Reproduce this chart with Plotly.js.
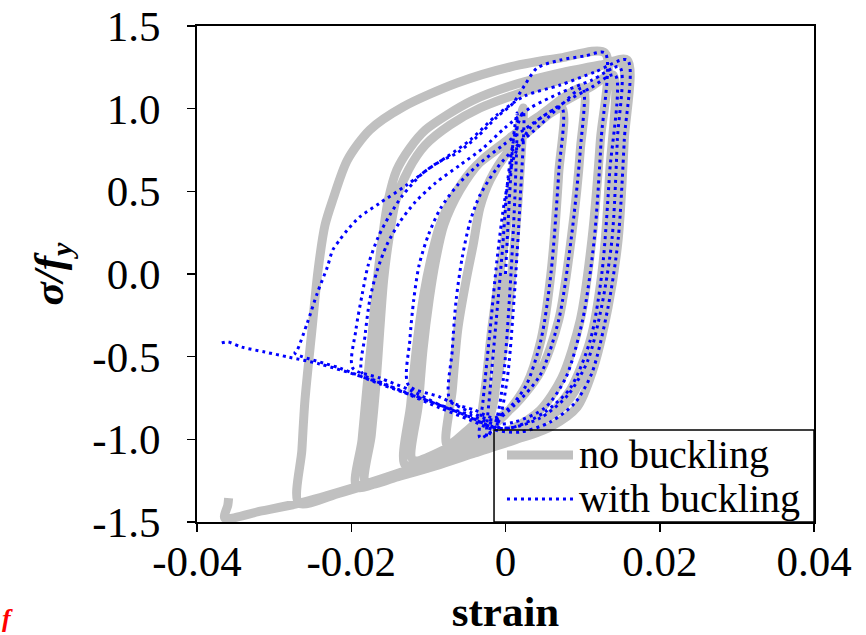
<!DOCTYPE html>
<html>
<head>
<meta charset="utf-8">
<script src="https://cdn.plot.ly/plotly-3.0.1.min.js"></script>
<style>html,body{margin:0;padding:0;background:#fff;}#chart{width:866px;height:635px;}</style>
</head>
<body>
<div id="chart"></div>
<script>
// ---- data ----
const xTickVals = [-0.04, -0.02, 0, 0.02, 0.04];
const xTickText = ['-0.04', '-0.02', '0', '0.02', '0.04'];
const yTickVals = [-1.5, -1.0, -0.5, 0.0, 0.5, 1.0, 1.5];
const yTickText = ['-1.5', '-1.0', '-0.5', '0.0', '0.5', '1.0', '1.5'];
const seriesNames = ['no buckling', 'with buckling'];

// no buckling (strain, sigma/fy)
const grayStrain = [
  0, -0.0007, -0.0015, -0.0024, -0.0033,
  -0.0025, -0.0018, -0.0010, -0.0001, 0.0007, 0.0012, 0.0018, 0.0023,
  0.0019, 0.0011, 0.0002, -0.0011, -0.0027, -0.0049, -0.0076,
  -0.0069, -0.0062, -0.0051, -0.0042, -0.0033, -0.0020, 0.0002, 0.0032, 0.0073,
  0.0069, 0.0059, 0.0046, 0.0027, -0.0001, -0.0040, -0.0085, -0.0130,
  -0.0123, -0.0115, -0.0106, -0.0097, -0.0085, -0.0064, -0.0037, 0.0006, 0.0051, 0.0100,
  0.0097, 0.0085, 0.0069, 0.0045, 0.0012, -0.0027, -0.0072, -0.0120,
  -0.0113, -0.0107, -0.0099, -0.0091, -0.0080, -0.0059, -0.0033, -0.0001, 0.0036, 0.0075, 0.0110, 0.0139,
  0.0135, 0.0125, 0.0110, 0.0084, 0.0054, 0.0012, -0.0040, -0.0091, -0.0143, -0.0193,
  -0.0186, -0.0180, -0.0173, -0.0167, -0.0160, -0.0152, -0.0141, -0.0124, -0.0104, -0.0076, -0.0042, 0.0006, 0.0071, 0.0123, 0.0158,
  0.0154, 0.0146, 0.0133, 0.0112, 0.0093, 0.0058, 0.0012, -0.0040, -0.0091, -0.0137, -0.0181,
  -0.0174, -0.0168, -0.0163, -0.0158, -0.0151, -0.0142, -0.0126, -0.0104, -0.0072, -0.0033, 0.0019, 0.0084, 0.0150,
  0.0146, 0.0138, 0.0124, 0.0103, 0.0077, 0.0038, -0.0007, -0.0059, -0.0111, -0.0163, -0.0215, -0.0268,
  -0.0264, -0.0260, -0.0251, -0.0243, -0.0234, -0.0224, -0.0205, -0.0176, -0.0133, -0.0063, 0.0006, 0.0071, 0.0129,
  0.0123, 0.0112, 0.0097, 0.0073, 0.0045, 0.0006, -0.0046, -0.0098, -0.0150, -0.0202, -0.0266, -0.0316, -0.0364,
  -0.0360, -0.0359
];
const grayStress = [
  0, -0.339, -0.762, -0.913, -0.986,
  -0.641, -0.339, -0.067, 0.206, 0.508, 0.720, 0.901, 1.004,
  0.629, 0.145, -0.278, -0.641, -0.835, -0.944, -1.034,
  -0.702, -0.339, -0.036, 0.175, 0.405, 0.569, 0.732, 0.871, 1.004,
  0.611, 0.006, -0.399, -0.671, -0.853, -0.986, -1.077, -1.155,
  -0.792, -0.430, -0.127, 0.085, 0.296, 0.496, 0.659, 0.810, 0.980, 1.125,
  0.750, 0.206, -0.278, -0.593, -0.792, -0.931, -1.046, -1.125,
  -0.792, -0.460, -0.157, 0.073, 0.296, 0.508, 0.677, 0.798, 0.931, 1.040, 1.131, 1.204,
  0.611, 0.006, -0.399, -0.702, -0.865, -0.962, -1.052, -1.137, -1.222, -1.288,
  -1.004, -0.702, -0.369, -0.067, 0.206, 0.448, 0.629, 0.762, 0.871, 0.962, 1.052, 1.137, 1.216, 1.264, 1.294,
  0.810, 0.206, -0.200, -0.599, -0.804, -0.925, -1.004, -1.083, -1.161, -1.222, -1.270,
  -0.974, -0.671, -0.339, -0.036, 0.218, 0.448, 0.629, 0.780, 0.901, 1.004, 1.095, 1.192, 1.276,
  0.810, 0.206, -0.218, -0.581, -0.792, -0.913, -1.004, -1.095, -1.180, -1.252, -1.325, -1.385,
  -1.065, -0.762, -0.339, 0.024, 0.296, 0.448, 0.689, 0.871, 1.010, 1.155, 1.252, 1.306, 1.337,
  0.810, 0.206, -0.278, -0.629, -0.823, -0.944, -1.046, -1.137, -1.222, -1.300, -1.385, -1.433, -1.476,
  -1.397, -1.355
];

// with buckling (strain, sigma/fy)
const blueStrain = [
  0, 0.0005, 0.0010, 0.0015,
  0.0012, 0.0005, -0.0003, -0.0012, -0.0024,
  -0.0020, -0.0012, -0.0004, 0.0003, 0.0012, 0.0023,
  0.0019, 0.0011, 0.0002, -0.0011, -0.0033,
  -0.0029, -0.0020, -0.0011, -0.0001, 0.0012, 0.0032, 0.0051, 0.0073,
  0.0069, 0.0059, 0.0046, 0.0027, 0.0006, -0.0014, -0.0040, -0.0072,
  -0.0069, -0.0064, -0.0056, -0.0046, -0.0033, -0.0011, 0.0012, 0.0045, 0.0075, 0.0100,
  0.0097, 0.0085, 0.0069, 0.0045, 0.0012, -0.0014, -0.0046, -0.0085, -0.0126,
  -0.0124, -0.0119, -0.0112, -0.0100, -0.0084, -0.0062, -0.0036, -0.0003, 0.0036, 0.0075, 0.0110, 0.0142,
  0.0135, 0.0125, 0.0110, 0.0084, 0.0051, 0.0012, -0.0014, -0.0046, -0.0085, -0.0124, -0.0163, -0.0198,
  -0.0194, -0.0186, -0.0178, -0.0165, -0.0150, -0.0133, -0.0107, -0.0076, -0.0046, -0.0011, 0.0025, 0.0071, 0.0116, 0.0158,
  0.0154, 0.0146, 0.0133, 0.0112, 0.0090, 0.0058, 0.0019, -0.0014, -0.0046, -0.0085, -0.0124, -0.0156, -0.0186,
  -0.0182, -0.0176, -0.0167, -0.0154, -0.0137, -0.0117, -0.0091, -0.0059, -0.0029, -0.0001, 0.0032, 0.0071, 0.0112, 0.0148,
  0.0145, 0.0138, 0.0125, 0.0107, 0.0081, 0.0045, 0.0006, -0.0020, -0.0059, -0.0111, -0.0163, -0.0215, -0.0273,
  -0.0270, -0.0257, -0.0244, -0.0231, -0.0224, -0.0215, -0.0205, -0.0189, -0.0163, -0.0128, -0.0089, -0.0063, -0.0037, -0.0011, 0.0010, 0.0025, 0.0041, 0.0071, 0.0103, 0.0129,
  0.0124, 0.0115, 0.0100, 0.0078, 0.0051, 0.0012, -0.0014, -0.0046, -0.0085, -0.0137, -0.0189, -0.0241, -0.0282, -0.0312, -0.0342, -0.0360, -0.0368
];
const blueStress = [
  0, 0.448, 0.810, 0.974,
  0.448, -0.157, -0.641, -0.883, -0.986,
  -0.702, -0.278, 0.145, 0.569, 0.841, 0.980,
  0.448, -0.157, -0.641, -0.913, -0.992,
  -0.762, -0.339, 0.085, 0.448, 0.720, 0.883, 0.962, 1.004,
  0.611, 0.006, -0.399, -0.671, -0.804, -0.871, -0.823, -0.762,
  -0.460, -0.157, 0.103, 0.315, 0.478, 0.641, 0.762, 0.901, 1.034, 1.125,
  0.750, 0.206, -0.278, -0.611, -0.792, -0.883, -0.835, -0.744, -0.671,
  -0.399, -0.157, 0.054, 0.236, 0.399, 0.538, 0.659, 0.780, 0.913, 1.034, 1.125, 1.204,
  0.611, 0.006, -0.399, -0.690, -0.835, -0.925, -0.931, -0.865, -0.792, -0.702, -0.629, -0.569,
  -0.339, -0.127, 0.054, 0.224, 0.357, 0.478, 0.611, 0.708, 0.810, 0.962, 1.077, 1.143, 1.222, 1.294,
  0.810, 0.206, -0.200, -0.599, -0.780, -0.895, -0.956, -0.944, -0.883, -0.810, -0.732, -0.665, -0.599,
  -0.369, -0.157, 0.012, 0.175, 0.315, 0.435, 0.550, 0.659, 0.762, 0.883, 1.004, 1.095, 1.173, 1.252,
  0.810, 0.206, -0.188, -0.520, -0.732, -0.871, -0.931, -0.919, -0.841, -0.750, -0.665, -0.569, -0.478,
  -0.460, -0.296, -0.115, 0.042, 0.145, 0.206, 0.266, 0.345, 0.429, 0.538, 0.671, 0.732, 0.829, 0.950, 1.034, 1.143, 1.246, 1.294, 1.319, 1.337,
  0.810, 0.206, -0.278, -0.629, -0.810, -0.895, -0.907, -0.853, -0.792, -0.702, -0.617, -0.544, -0.502, -0.472, -0.442, -0.411, -0.417
];

// ---- chart ----
const FONT = '"Liberation Serif", "Times New Roman", serif';
const GRAY = '#c0c0c0', BLUE = '#0000ff';
const traces = [
  {
    x: grayStrain, y: grayStress, type: 'scatter', mode: 'lines',
    name: seriesNames[0], showlegend: false,
    line: {color: GRAY, width: 9, shape: 'spline', smoothing: 0.8}
  },
  {
    x: blueStrain, y: blueStress, type: 'scatter', mode: 'lines',
    name: seriesNames[1], showlegend: false,
    line: {color: BLUE, width: 3, dash: '3px,4px', shape: 'spline', smoothing: 0.8}
  }
];

// legend box (paper coordinates)
const LG = {x0: 0.4814, x1: 1.0, y0: 0.0, y1: 0.1855, sx0: 0.5024, sx1: 0.6094, tx: 0.616, row1: 0.1351, row2: 0.0464};

const layout = {
  width: 866, height: 635,
  margin: {l: 197, r: 52, t: 26, b: 113, pad: 0},
  paper_bgcolor: '#ffffff', plot_bgcolor: '#ffffff',
  font: {family: FONT, color: '#000000', size: 40},
  showlegend: false,
  xaxis: {
    range: [-0.04, 0.04], tickvals: xTickVals, ticktext: xTickText,
    ticks: 'outside', ticklen: 8, tickwidth: 1.5, tickcolor: '#000000',
    showline: true, linewidth: 2, linecolor: '#000000', mirror: true,
    showgrid: false, zeroline: false,
    tickfont: {family: FONT, size: 43, color: '#000000'},
    ticklabelstandoff: -8,
    automargin: false,
    title: {text: '<b>strain</b>', font: {family: FONT, size: 43, color: '#000000'}}
  },
  yaxis: {
    range: [-1.5, 1.5], tickvals: yTickVals, ticktext: yTickText,
    ticks: 'outside', ticklen: 8, tickwidth: 1.5, tickcolor: '#000000',
    showline: true, linewidth: 2, linecolor: '#000000', mirror: true,
    showgrid: false, zeroline: false,
    tickfont: {family: FONT, size: 43, color: '#000000'},
    ticklabelstandoff: 18,
    automargin: 'left',
    title: {text: '<b><i>σ/f<sub>y</sub></i></b>', font: {family: FONT, size: 43, color: '#000000'}, standoff: 15}
  },
  shapes: [
    {type: 'rect', xref: 'paper', yref: 'paper', x0: LG.x0, x1: LG.x1, y0: LG.y0, y1: LG.y1,
     line: {color: '#000000', width: 1.5}, fillcolor: 'rgba(0,0,0,0)'},
    {type: 'line', xref: 'paper', yref: 'paper', x0: LG.sx0, x1: LG.sx1, y0: LG.row1, y1: LG.row1,
     line: {color: GRAY, width: 9}},
    {type: 'line', xref: 'paper', yref: 'paper', x0: LG.sx0, x1: LG.sx1, y0: LG.row2, y1: LG.row2,
     line: {color: BLUE, width: 3, dash: '3px,4px'}}
  ],
  annotations: [
    {text: seriesNames[0], xref: 'paper', yref: 'paper', x: LG.tx, y: LG.row1,
     xanchor: 'left', yanchor: 'middle', showarrow: false,
     font: {family: FONT, size: 40, color: '#000000'}},
    {text: seriesNames[1], xref: 'paper', yref: 'paper', x: LG.tx, y: LG.row2,
     xanchor: 'left', yanchor: 'middle', showarrow: false,
     font: {family: FONT, size: 40, color: '#000000'}},
    {text: '<b><i>f</i></b>', xref: 'paper', yref: 'paper', x: -0.3193, y: -0.2278,
     xanchor: 'left', yanchor: 'bottom', showarrow: false,
     font: {family: FONT, size: 26, color: '#ff0000'}}
  ]
};

Plotly.newPlot('chart', traces, layout, {displayModeBar: false, staticPlot: true});
</script>
</body>
</html>
